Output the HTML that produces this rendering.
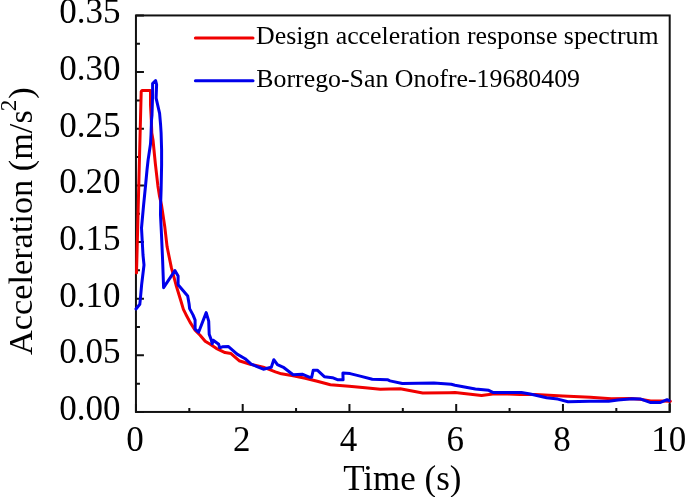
<!DOCTYPE html>
<html><head><meta charset="utf-8"><style>
html,body{margin:0;padding:0;background:#fff;}
body{width:685px;height:497px;overflow:hidden;position:relative;}
svg{position:absolute;left:0;top:0;will-change:transform;}
text{font-family:"Liberation Serif",serif;fill:#000;}
</style></head><body>
<svg width="685" height="497" viewBox="0 0 685 497">
<g font-size="35"><text x="134.9" y="451" text-anchor="middle">0</text><text x="241.7" y="451" text-anchor="middle">2</text><text x="348.4" y="451" text-anchor="middle">4</text><text x="455.2" y="451" text-anchor="middle">6</text><text x="562.0" y="451" text-anchor="middle">8</text><text x="668.7" y="451" text-anchor="middle">10</text><text x="120.5" y="419.9" text-anchor="end">0.00</text><text x="120.5" y="363.3" text-anchor="end">0.05</text><text x="120.5" y="306.7" text-anchor="end">0.10</text><text x="120.5" y="250.0" text-anchor="end">0.15</text><text x="120.5" y="193.4" text-anchor="end">0.20</text><text x="120.5" y="136.7" text-anchor="end">0.25</text><text x="120.5" y="80.1" text-anchor="end">0.30</text><text x="120.5" y="23.4" text-anchor="end">0.35</text>
<text x="343.2" y="489.5" font-size="35">Time (s)</text>
<text transform="translate(31.9,355) rotate(-90)" x="0" y="0" font-size="34.3">Acceleration (m/s<tspan font-size="23" dy="-15.6" dx="-1">2</tspan><tspan dy="15.6" dx="1">)</tspan></text>
</g>
<g font-size="25.85">
<text x="256" y="44.2">Design acceleration response spectrum</text>
<text x="256.3" y="87.2">Borrego-San Onofre-19680409</text>
</g>
<line x1="195.4" y1="38" x2="253" y2="38" stroke-linecap="round" stroke="rgb(240,0,0)" stroke-width="3"/>
<line x1="195.4" y1="80.7" x2="253" y2="80.7" stroke-linecap="round" stroke="rgb(0,0,235)" stroke-width="3"/>
<rect x="135.95" y="15.45" width="533.75" height="396.50" fill="none" stroke="#111" stroke-width="2"/>
<path d="M135.95 411.95V403.95M189.32 411.95V407.95M242.70 411.95V403.95M296.07 411.95V407.95M349.45 411.95V403.95M402.82 411.95V407.95M456.20 411.95V403.95M509.57 411.95V407.95M562.95 411.95V403.95M616.33 411.95V407.95M669.70 411.95V403.95M135.95 411.95H143.95M135.95 383.63H139.95M135.95 355.31H143.95M135.95 326.99H139.95M135.95 298.66H143.95M135.95 270.34H139.95M135.95 242.02H143.95M135.95 213.70H139.95M135.95 185.38H143.95M135.95 157.06H139.95M135.95 128.74H143.95M135.95 100.41H139.95M135.95 72.09H143.95M135.95 43.77H139.95M135.95 15.45H143.95" stroke="#111" stroke-width="2" fill="none"/>
<polyline points="136.5,273.0 141.2,91.5 142.0,90.6 150.5,90.6 150.5,105.0 151.3,120.0 151.8,133.0 153.0,140.0 155.4,164.2 157.9,185.9 159.4,195.6 161.5,205.0 164.7,226.2 167.1,246.8 171.3,267.4 176.1,285.2 181.0,301.3 183.4,309.4 185.8,314.2 190.0,322.1 195.1,330.2 200.1,335.2 205.2,341.2 210.2,344.3 216.2,348.3 225.0,352.6 231.0,353.6 239.1,360.7 250.2,364.2 263.3,367.2 275.4,371.8 281.4,373.8 293.1,375.7 305.2,378.2 317.3,381.3 330.4,384.8 349.1,386.2 365.2,387.7 380.3,389.2 390.0,389.1 400.2,388.8 422.7,392.9 449.2,392.7 455.0,392.6 481.6,395.4 492.8,394.1 508.1,394.1 520.0,394.5 535.3,394.5 562.9,396.0 590.3,397.3 611.3,398.7 631.0,398.4 640.2,399.3 650.7,401.0 661.2,401.0 670.4,401.3" fill="none" stroke="rgb(240,0,0)" stroke-width="3" stroke-linejoin="round" stroke-linecap="round"/>
<polyline points="136.0,309.0 139.8,304.3 140.4,298.6 141.6,285.0 144.0,265.0 143.0,255.0 141.5,228.0 143.6,205.0 145.6,185.0 147.0,170.0 148.1,160.0 150.5,144.0 151.0,135.0 151.5,120.0 152.0,115.0 152.6,95.0 152.6,83.6 155.6,80.5 156.6,84.6 156.1,98.2 159.6,113.3 160.6,125.0 161.1,133.0 161.6,150.0 161.6,165.0 161.1,190.0 160.6,205.0 160.5,215.0 161.5,235.0 162.6,260.0 163.6,287.7 174.9,270.6 178.1,276.1 178.1,284.7 187.7,296.0 189.1,304.0 189.6,308.6 193.1,315.1 195.1,320.1 195.1,329.2 198.6,332.2 206.2,312.6 208.7,321.1 209.2,334.2 211.2,339.7 212.2,343.8 213.2,340.2 218.7,344.3 219.7,347.8 222.3,346.8 228.5,346.6 237.1,354.1 245.1,358.7 251.2,364.2 263.3,369.2 271.3,367.2 273.8,359.7 277.4,364.7 284.0,367.7 293.1,374.7 302.2,374.2 309.2,377.2 311.7,377.2 313.2,370.2 317.3,370.2 324.3,376.7 332.4,377.7 337.4,379.7 343.1,379.7 342.9,373.1 350.1,373.6 360.2,376.1 372.3,379.2 387.4,379.7 390.0,380.9 402.3,383.5 433.9,383.0 451.3,384.3 455.0,385.2 475.4,389.0 488.7,390.3 492.8,392.4 521.4,392.4 530.2,394.0 546.6,397.8 557.8,399.1 568.0,401.7 590.0,401.2 608.7,401.3 617.9,400.0 632.3,398.7 640.2,398.9 650.7,402.6 659.9,402.6 667.1,399.7 669.1,400.6" fill="none" stroke="rgb(0,0,235)" stroke-width="3" stroke-linejoin="round" stroke-linecap="round"/>
</svg>
</body></html>
